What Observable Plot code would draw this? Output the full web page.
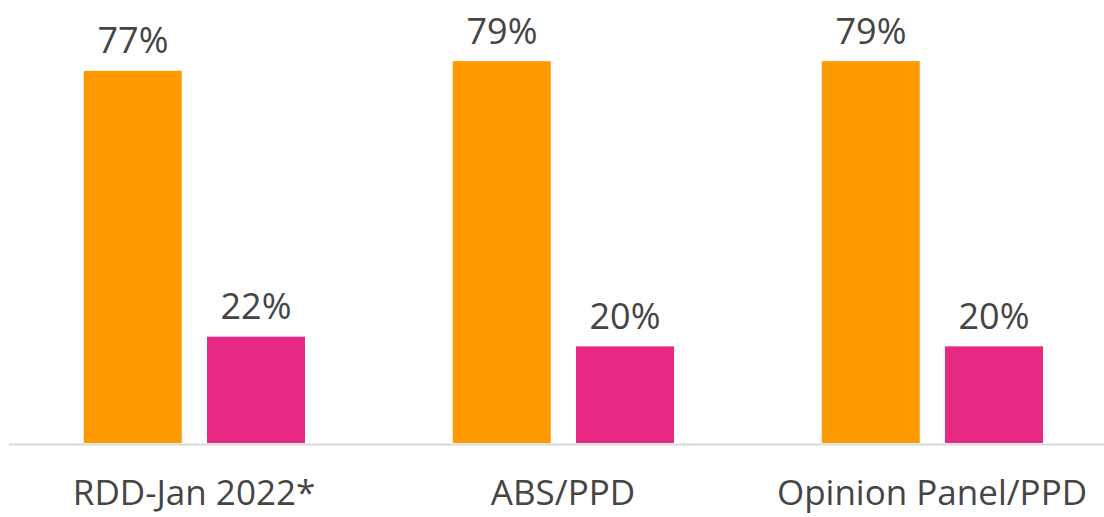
<!DOCTYPE html>
<html>
<head>
<meta charset="utf-8">
<script src="https://cdn.jsdelivr.net/npm/d3@7"></script>
<script src="https://cdn.jsdelivr.net/npm/@observablehq/plot@0.6"></script>
<style>
  html, body { margin: 0; padding: 0; background: #fff; }
  #chart svg { display: block; overflow: visible; }
</style>
</head>
<body>
<div id="chart"></div>
<script>
const groups = ["RDD-Jan 2022*", "ABS/PPD", "Opinion Panel/PPD"];
const seriesA = [77, 79, 79];
const seriesB = [22, 20, 20];

const dataA = groups.map((g, i) => ({group: g, value: seriesA[i]}));
const dataB = groups.map((g, i) => ({group: g, value: seriesB[i]}));

const font = "'Open Sans', 'Noto Sans', sans-serif";
const textColor = "#454545";

const chart = Plot.plot({
  width: 1104,
  height: 517,
  marginTop: 8,
  marginBottom: 74,
  marginLeft: 9,
  marginRight: 0,
  style: {fontFamily: font, background: "#fff", overflow: "visible"},
  x: {domain: groups, range: [8.25, 1116.75], padding: 0, label: null},
  y: {domain: [0, 90], axis: null},
  marks: [
    Plot.barY(dataA, {x: "group", y: "value", fill: "#FF9900", insetLeft: 74.75, insetRight: 196.25}),
    Plot.barY(dataB, {x: "group", y: "value", fill: "#E62A84", insetLeft: 198, insetRight: 73}),
    Plot.text(dataA, {x: "group", y: "value", text: d => d.value + "%", dx: -61, dy: -18, lineAnchor: "bottom", fontSize: 36, fill: textColor}),
    Plot.text(dataB, {x: "group", y: "value", text: d => d.value + "%", dx: 62, dy: -18, lineAnchor: "bottom", fontSize: 36, fill: textColor}),
    Plot.ruleY([0], {stroke: "#d9d9d9", strokeWidth: 2, dy: 1}),
    Plot.axisX({tickSize: 0, tickPadding: 37, fontSize: 35, fill: textColor, color: textColor, label: null})
  ]
});
document.getElementById("chart").appendChild(chart);
</script>
</body>
</html>
